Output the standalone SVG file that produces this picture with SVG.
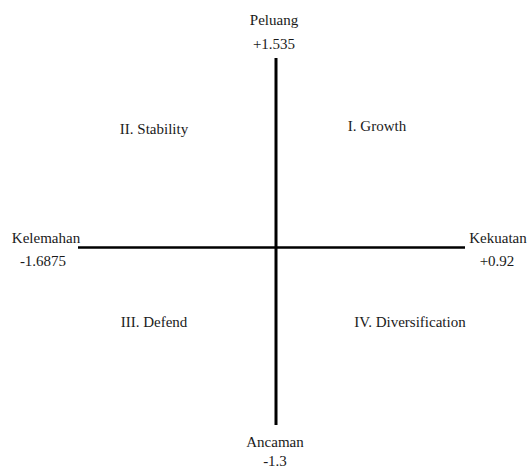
<svg xmlns="http://www.w3.org/2000/svg" width="528" height="468" viewBox="0 0 528 468">
<style>
text{font-family:"Liberation Serif","DejaVu Serif",serif;font-size:15px;fill:#1a1a1a}
.c{text-anchor:middle}
.ax{stroke:#000;fill:none}
</style>
<rect width="528" height="468" fill="#fff"/>
<g id="connectors">
<line class="ax" x1="276" y1="58" x2="276" y2="425" stroke-width="3"/>
<line class="ax" x1="78" y1="247.5" x2="465" y2="247.5" stroke-width="2.5"/>
</g>
<g id="peluang"><text class="c" x="274" y="25">Peluang</text><text class="c" x="274" y="49">+1.535</text></g>
<g id="ancaman"><text class="c" x="275" y="447">Ancaman</text><text class="c" x="275" y="466">-1.3</text></g>
<g id="kelemahan"><text class="c" x="46" y="243">Kelemahan</text><text class="c" x="43" y="266">-1.6875</text></g>
<g id="kekuatan"><text class="c" x="498" y="243">Kekuatan</text><text class="c" x="497" y="266">+0.92</text></g>
<g id="q1"><text class="c" x="377" y="131">I. Growth</text></g>
<g id="q2"><text class="c" x="154" y="134">II. Stability</text></g>
<g id="q3"><text class="c" x="154" y="327">III. Defend</text></g>
<g id="q4"><text class="c" x="410" y="327">IV. Diversification</text></g>
</svg>
